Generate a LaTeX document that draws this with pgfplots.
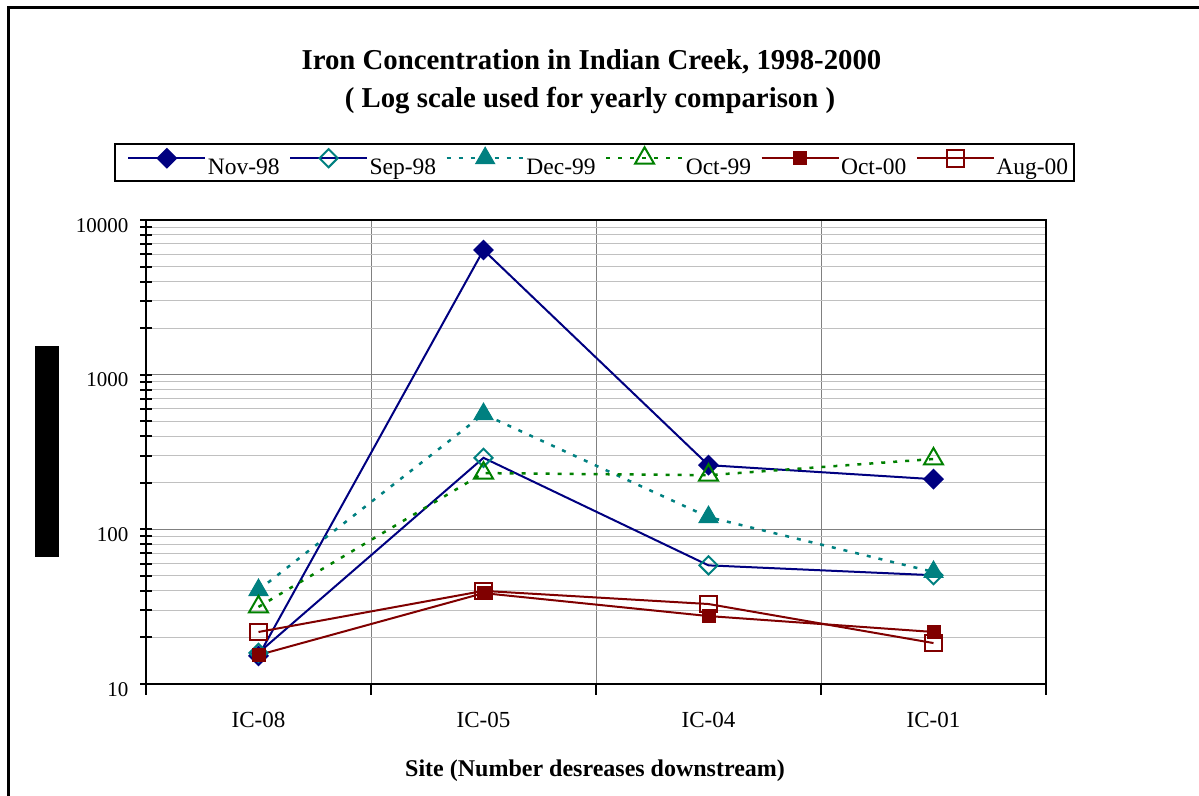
\documentclass[border=0pt]{standalone}
\usepackage{fontspec}
\setmainfont{Liberation Serif}
\usepackage{pgfplots}
\pgfplotsset{compat=1.18}
\definecolor{xnavy}{RGB}{0,0,128}
\definecolor{xteal}{RGB}{0,128,128}
\definecolor{xgreen}{RGB}{0,128,0}
\definecolor{xred}{RGB}{128,0,0}
\definecolor{gridmaj}{RGB}{128,128,128}
\definecolor{gridmin}{RGB}{192,192,192}
\pgfplotstableread{
x    nov98  sep98  dec99  oct99  oct00  aug00
0.5  15.2   15.9   40.5   31.5   15.4   21.7
1.5  6400   290    556    231    38.7   40.0
2.5  260    58.5   120    224    27.5   32.9
3.5  211    50.5   53     285    21.7   18.4
}\datatable
\begin{document}
\begin{tikzpicture}
\useasboundingbox (0pt,0pt) rectangle (1199pt,-795pt);
\draw[line width=2.5pt] (8.5pt,-800pt) -- (8.5pt,-7.5pt) -- (1205pt,-7.5pt);
\fill (35pt,-346pt) rectangle (59pt,-557pt);
\node[font=\bfseries\fontsize{28.8}{34}\selectfont, anchor=base] at (591.5pt,-69pt) {Iron Concentration in Indian Creek, 1998-2000};
\node[font=\bfseries\fontsize{28.8}{34}\selectfont, anchor=base] at (590pt,-107pt) {( Log scale used for yearly comparison )};
\begin{axis}[
  at={(146pt,-684pt)}, anchor=south west,
  width=900pt, height=464pt, scale only axis,
  xmin=0, xmax=4, ymode=log, ymin=10, ymax=10000,
  axis line style={line width=2pt},
  tick style={line width=2pt, black},
  tick align=center,
  xtick pos=bottom, ytick pos=left,
  major tick length=12pt, minor tick length=12pt,
  xtick={0,1,2,3,4}, xticklabels={},
  xtick style={yshift=-5pt},
  extra x ticks={0.5,1.5,2.5,3.5},
  extra x tick labels={IC-08,IC-05,IC-04,IC-01},
  extra x tick style={major tick length=0pt, grid=none},
  xticklabel style={font=\fontsize{23}{26}\selectfont, anchor=base, yshift=-43pt},
  ytick={10,100,1000,10000}, yticklabels={10,100,1000,10000},
  minor ytick={20,30,40,50,60,70,80,90,200,300,400,500,600,700,800,900,2000,3000,4000,5000,6000,7000,8000,9000},
  yticklabel style={font=\fontsize{21}{24}\selectfont, anchor=base east, yshift=-12pt, xshift=-8pt},
  /pgf/number format/assume math mode=true,
  xmajorgrids, ymajorgrids, yminorgrids,
  major grid style={gridmaj, line width=1pt},
  minor grid style={gridmin, line width=1pt},
  xlabel={Site (Number desreases downstream)},
  every axis x label/.style={at={(axis description cs:0.499,0)}, anchor=base, yshift=-92pt, font=\bfseries\fontsize{24}{28}\selectfont},
  legend columns=6,
  legend cell align=left,
  legend style={at={(0.4983,1.1239)}, anchor=center, draw=black, line width=2pt,
    font=\fontsize{23.5}{26}\selectfont, inner xsep=4pt, inner ysep=3pt, column sep=0pt,
    nodes={inner xsep=1.5pt, inner ysep=2pt}},
  legend image code/.code={
    \path[draw=none,fill=none] (0pt,0pt) -- (86pt,0pt);
    \draw[mark repeat=2,mark phase=2,#1] plot coordinates {(9pt,9pt) (47.5pt,9pt) (86pt,9pt)};
  },
  clip=false,
]
\addplot[xnavy, line width=2pt, mark=square*, mark size=6.4pt, mark options={rotate=45, fill=xnavy, solid}] table[x=x,y=nov98]{\datatable};
\addlegendentry{Nov-98}
\addplot[xnavy, line width=2pt, mark=square, mark size=6.4pt, mark options={rotate=45, draw=xteal, fill=white, line width=2pt, solid}] table[x=x,y=sep98]{\datatable};
\addlegendentry{Sep-98}
\addplot[xteal, line width=2.5pt, dash pattern=on 4pt off 8pt, mark=triangle*, mark size=11pt, mark options={fill=xteal, solid, line width=1pt}] table[x=x,y=dec99]{\datatable};
\addlegendentry{Dec-99}
\addplot[xgreen, line width=2.5pt, dash pattern=on 4pt off 8pt, mark=triangle, mark size=11pt, mark options={fill=white, solid, line width=2pt}] table[x=x,y=oct99]{\datatable};
\addlegendentry{Oct-99}
\addplot[xred, line width=2pt, mark=square*, mark size=6pt, mark options={fill=xred, solid}] table[x=x,y=oct00]{\datatable};
\addlegendentry{Oct-00}
\addplot[xred, line width=2pt, mark=square, mark size=8.3pt, mark options={fill=white, line width=2pt, solid}] table[x=x,y=aug00]{\datatable};
\addlegendentry{Aug-00}
\end{axis}
\end{tikzpicture}
\end{document}
